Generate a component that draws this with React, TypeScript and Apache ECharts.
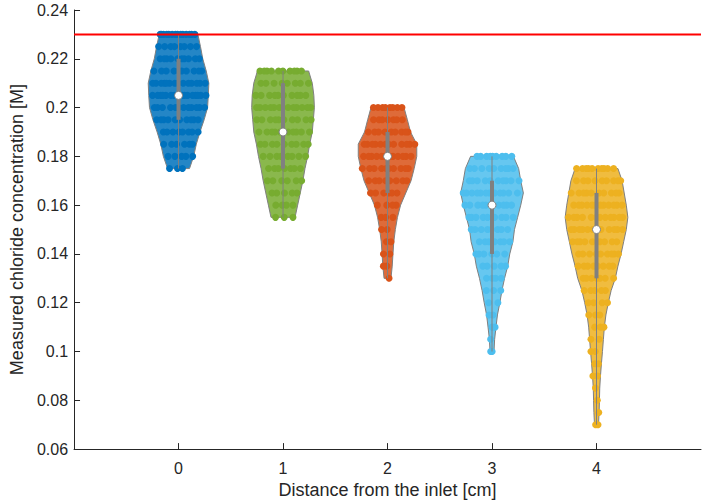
import React, { useEffect, useRef } from "react";
import * as echarts from "echarts";

// ---- data ----
const categories = [0, 1, 2, 3, 4];
const xTickLabels = ["0", "1", "2", "3", "4"];
const yTicks = [0.06, 0.08, 0.1, 0.12, 0.14, 0.16, 0.18, 0.2, 0.22, 0.24];
const threshold = 0.23;

// measurement levels (M), violin half-widths (x units) and number of points at each level
const levels0 = [0.23, 0.225, 0.22, 0.215, 0.21, 0.205, 0.2, 0.195, 0.19, 0.185, 0.18, 0.175];
const widths0 = [0.185, 0.21, 0.232, 0.265, 0.29, 0.285, 0.278, 0.245, 0.205, 0.17, 0.145, 0.105];
const counts0 = [14, 8, 10, 10, 14, 16, 12, 10, 8, 6, 5, 3];

const levels1 = [0.215, 0.21, 0.205, 0.2, 0.195, 0.19, 0.185, 0.18, 0.175, 0.17, 0.165, 0.16, 0.155];
const widths1 = [0.245, 0.28, 0.295, 0.3, 0.29, 0.28, 0.255, 0.235, 0.21, 0.19, 0.165, 0.14, 0.115];
const counts1 = [10, 8, 10, 12, 10, 10, 9, 8, 7, 6, 5, 4, 3];

const levels2 = [0.2, 0.195, 0.19, 0.185, 0.18, 0.175, 0.17, 0.165, 0.16, 0.155, 0.15, 0.145, 0.14, 0.135, 0.13];
const widths2 = [0.158, 0.19, 0.22, 0.28, 0.28, 0.255, 0.225, 0.175, 0.125, 0.095, 0.075, 0.06, 0.052, 0.045, 0.033];
const counts2 = [8, 7, 9, 12, 12, 10, 8, 6, 4, 3, 2, 2, 2, 2, 1];

const levels3 = [0.18, 0.175, 0.17, 0.165, 0.16, 0.155, 0.15, 0.145, 0.14, 0.135, 0.13, 0.125, 0.12, 0.115, 0.11, 0.105, 0.1];
const widths3 = [0.205, 0.255, 0.275, 0.3, 0.275, 0.245, 0.215, 0.2, 0.17, 0.15, 0.12, 0.095, 0.075, 0.052, 0.038, 0.025, 0.019];
const counts3 = [9, 9, 10, 12, 10, 9, 8, 7, 6, 5, 4, 3, 2, 2, 2, 1, 2];

const levels4 = [0.175, 0.17, 0.165, 0.16, 0.155, 0.15, 0.145, 0.14, 0.135, 0.13, 0.125, 0.12, 0.115, 0.11, 0.105, 0.1, 0.095, 0.09, 0.085, 0.08, 0.075, 0.07];
const widths4 = [0.205, 0.245, 0.265, 0.285, 0.3, 0.285, 0.26, 0.235, 0.205, 0.18, 0.14, 0.113, 0.09, 0.075, 0.066, 0.057, 0.047, 0.038, 0.031, 0.028, 0.025, 0.019];
const counts4 = [10, 9, 10, 12, 12, 12, 10, 9, 8, 7, 5, 4, 3, 3, 2, 2, 2, 2, 1, 1, 1, 2];

const medians = [0.205, 0.19, 0.18, 0.16, 0.15];
const q1s = [0.195, 0.175, 0.165, 0.14, 0.13];
const q3s = [0.22, 0.21, 0.19, 0.17, 0.165];

// ---- styling ----
const colors = ["#0072BD", "#77AC30", "#D95319", "#4DBEEE", "#EDB120"];
const FONT = "Liberation Sans, Arial, Helvetica, sans-serif";
const TEXT = "#262626";
const GRAY = "#808080";

const allLevels = [levels0, levels1, levels2, levels3, levels4];
const allWidths = [widths0, widths1, widths2, widths3, widths4];
const allCounts = [counts0, counts1, counts2, counts3, counts4];

function hexA(hex: string, a: number) {
  const n = parseInt(hex.slice(1), 16);
  return `rgba(${(n >> 16) & 255},${(n >> 8) & 255},${n & 255},${a})`;
}

// deterministic spread of points across the violin width (visual jitter only)
function spread(k: number, i: number, g: number) {
  const t = (k * 0.6180339887 + i * 0.3137 + g * 0.171) % 1;
  return 2 * t - 1;
}

export default function App() {
  const ref = useRef<HTMLDivElement>(null);
  useEffect(() => {
    if (!ref.current) return;
    const chart = echarts.init(ref.current, undefined, { renderer: "svg" });

    const violinData = categories.map((c, g) => [c, g]);

    const pointSeries = categories.map((c, g) => {
      const lv = allLevels[g];
      const wd = allWidths[g];
      const ct = allCounts[g];
      const pts: number[][] = [];
      lv.forEach((v, i) => {
        const n = ct[i];
        const w = wd[i] * 0.95;
        for (let k = 0; k < n; k++) {
          pts.push([c + spread(k, i, g) * w, v]);
        }
      });
      return {
        type: "scatter",
        data: pts,
        symbol: "circle",
        symbolSize: 7,
        itemStyle: { color: colors[g], opacity: 1 },
        silent: true,
        z: 3,
      };
    });

    const option: any = {
      animation: false,
      grid: { left: 68, right: 2, top: 10, bottom: 54, containLabel: false },
      xAxis: {
        type: "value",
        min: -1,
        max: 5,
        interval: 1,
        name: "Distance from the inlet [cm]",
        nameLocation: "middle",
        nameGap: 30,
        nameTextStyle: { fontFamily: FONT, fontSize: 18, color: TEXT },
        axisLine: { show: true, onZero: false, lineStyle: { color: TEXT, width: 1 } },
        axisTick: { show: true, inside: true, length: 6, customValues: categories, lineStyle: { color: TEXT } },
        axisLabel: {
          customValues: categories,
          margin: 11,
          fontFamily: FONT,
          fontSize: 16,
          color: TEXT,
          formatter: (v: number) => xTickLabels[categories.indexOf(Math.round(v))] ?? "",
        },
        splitLine: { show: false },
      },
      yAxis: {
        type: "value",
        min: 0.06,
        max: 0.24,
        interval: 0.02,
        name: "Measured chloride concentration [M]",
        nameLocation: "middle",
        nameGap: 46,
        nameTextStyle: { fontFamily: FONT, fontSize: 18, color: TEXT },
        axisLine: { show: true, onZero: false, lineStyle: { color: TEXT, width: 1 } },
        axisTick: { show: true, inside: true, length: 6, customValues: yTicks, lineStyle: { color: TEXT } },
        axisLabel: {
          customValues: yTicks,
          margin: 6,
          fontFamily: FONT,
          fontSize: 16,
          color: TEXT,
          formatter: (v: number) => String(+v.toFixed(2)),
        },
        splitLine: { show: false },
      },
      series: [
        {
          type: "custom",
          data: violinData,
          silent: true,
          z: 2,
          renderItem: (params: any, api: any) => {
            const c = api.value(0);
            const g = api.value(1);
            const lv = allLevels[g];
            const wd = allWidths[g];
            const right = lv.map((v, i) => api.coord([c + wd[i], v]));
            const left = lv.map((v, i) => api.coord([c - wd[i], v])).reverse();
            return {
              type: "polygon",
              shape: { points: right.concat(left) },
              style: { fill: hexA(colors[g], 0.86), stroke: GRAY, lineWidth: 1 },
            };
          },
        },
        ...pointSeries,
        {
          type: "custom",
          data: categories.map((c, g) => [c, g]),
          silent: true,
          z: 4,
          renderItem: (params: any, api: any) => {
            const c = api.value(0);
            const g = api.value(1);
            const lv = allLevels[g];
            const top = api.coord([c, lv[0]]);
            const bot = api.coord([c, lv[lv.length - 1]]);
            const b3 = api.coord([c, q3s[g]]);
            const b1 = api.coord([c, q1s[g]]);
            const m = api.coord([c, medians[g]]);
            return {
              type: "group",
              children: [
                { type: "line", shape: { x1: top[0], y1: top[1], x2: bot[0], y2: bot[1] }, style: { stroke: GRAY, lineWidth: 1 } },
                { type: "line", shape: { x1: b3[0], y1: b3[1], x2: b1[0], y2: b1[1] }, style: { stroke: GRAY, lineWidth: 4 } },
                { type: "circle", shape: { cx: m[0], cy: m[1], r: 4 }, style: { fill: "#ffffff", stroke: GRAY, lineWidth: 1 } },
              ],
            };
          },
        },
        {
          type: "line",
          data: [[-1, threshold], [5, threshold]],
          symbol: "none",
          silent: true,
          z: 5,
          lineStyle: { color: "#FF0000", width: 2 },
        },
      ],
    };
    chart.setOption(option);
    return () => chart.dispose();
  }, []);
  return <div ref={ref} style={{ position: "fixed", left: 0, top: 0, width: 703, height: 504, background: "#fff" }} />;
}
